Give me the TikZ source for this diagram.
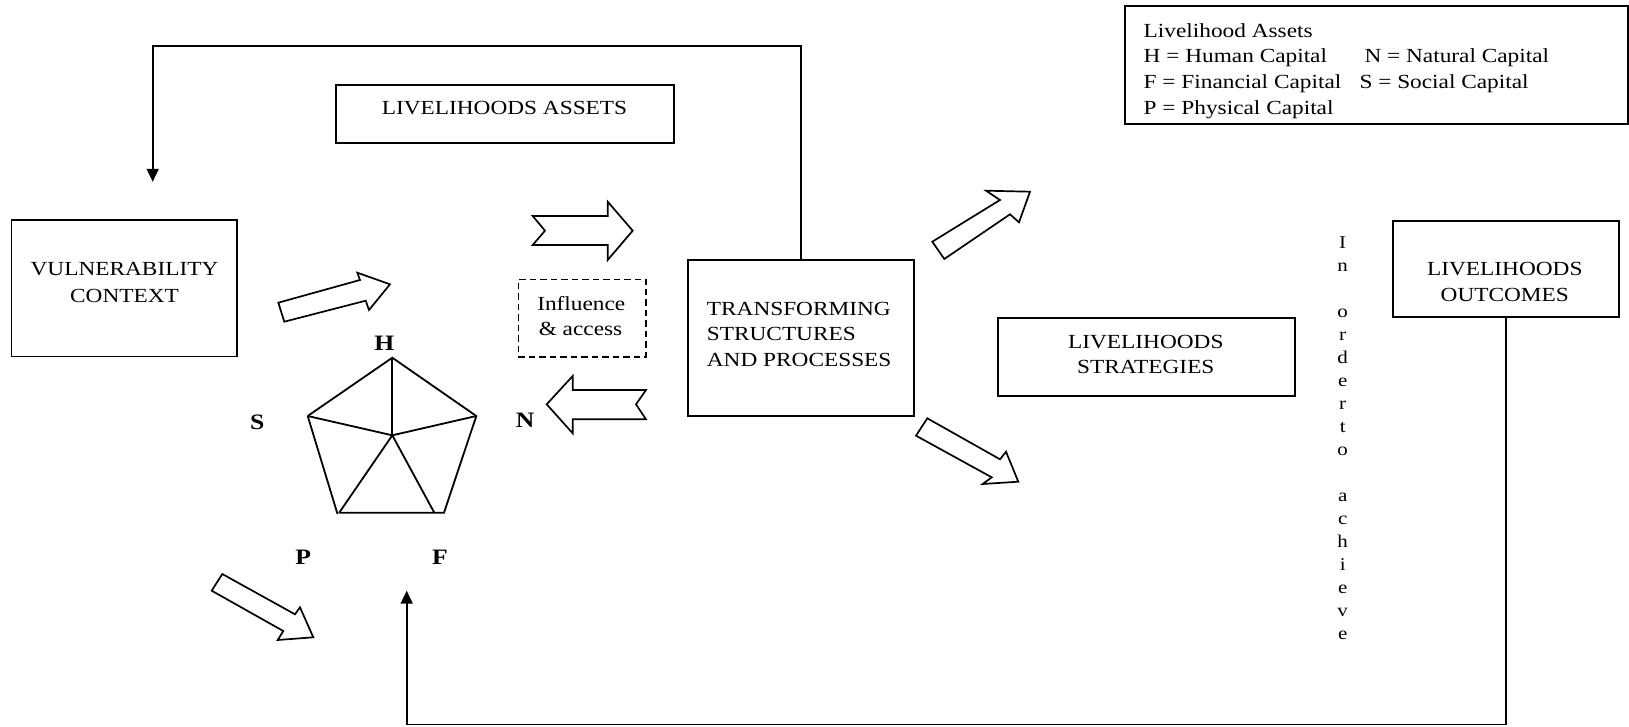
\documentclass[tikz,border=0pt]{standalone}
\usepackage{fontspec}
\setmainfont{Liberation Serif}[FakeStretch=1.165]
\usetikzlibrary{arrows.meta}
\begin{document}
\begin{tikzpicture}[x=1pt,y=-1pt,
  box/.style={draw, line width=1.8pt, rectangle, inner sep=0pt},
  dbox/.style={draw, line width=1.6pt, rectangle, inner sep=0pt, dash pattern=on 6.5pt off 4pt},
  txt/.style={inner sep=0pt, font=\fontsize{20}{22}\selectfont},
  vtxt/.style={inner sep=0pt, font=\fontsize{18}{20}\selectfont},
  lbl/.style={inner sep=0pt, font=\fontsize{22}{24}\selectfont\bfseries},
  conn/.style={line width=1.8pt, line cap=butt},
  tip/.style={-{Triangle[length=13pt,width=12pt]}},
  blockarrow/.style={draw, line width=1.7pt, fill=white, line join=miter},
  pent/.style={line width=1.8pt, line join=miter}]
\useasboundingbox (0,0) rectangle (1629,727);

% ---- boxes ----
\node[box, minimum width=225.5, minimum height=136] (vul) at (124.2,288.4) {};
\node[txt, anchor=base] (vulA) at (124.5,276) {VULNERABILITY};
\node[txt, anchor=base] (vulB) at (124.5,302) {CONTEXT};

\node[box, minimum width=338.7, minimum height=58.2] (assets) at (505,114.3) {};
\node[txt, anchor=base] (assetsT) at (504.5,115) {LIVELIHOODS ASSETS};

\node[box, minimum width=503, minimum height=117.6] (legend) at (1376.5,65) {};
\node[txt, anchor=base west] (lg1) at (1143.5,37.3) {Livelihood Assets};
\node[txt, anchor=base west] (lg2) at (1143.5,62.9) {H = Human Capital};
\node[txt, anchor=base west] (lg3) at (1364.3,62.9) {N = Natural Capital};
\node[txt, anchor=base west] (lg4) at (1143.5,88.5) {F = Financial Capital};
\node[txt, anchor=base west] (lg5) at (1359.3,88.5) {S = Social Capital};
\node[txt, anchor=base west] (lg6) at (1143.5,114.1) {P = Physical Capital};

\node[box, minimum width=226, minimum height=155.6] (trans) at (801,337.8) {};
\node[txt, anchor=base west] (transA) at (706.7,315) {TRANSFORMING};
\node[txt, anchor=base west] (transB) at (706.7,340.8) {STRUCTURES};
\node[txt, anchor=base west] (transC) at (706.7,366.6) {AND PROCESSES};

\node[dbox, minimum width=127.7, minimum height=77.4] (infl) at (582.2,318) {};
\node[txt, anchor=base] (inflA) at (581.3,310) {Influence};
\node[txt, anchor=base] (inflB) at (580.5,335) {\& access};

\node[box, minimum width=297.3, minimum height=77.7] (strat) at (1146.3,357.2) {};
\node[txt, anchor=base] (stratA) at (1145.8,348.3) {LIVELIHOODS};
\node[txt, anchor=base] (stratB) at (1145.8,373.5) {STRATEGIES};

\node[box, minimum width=226, minimum height=96.6] (outc) at (1505.7,269) {};
\node[txt, anchor=base] (outcA) at (1504.8,275) {LIVELIHOODS};
\node[txt, anchor=base] (outcB) at (1504.8,301) {OUTCOMES};

% ---- vertical text ----
\foreach \ch [count=\k from 0] in {I,n,{},o,r,d,e,r,t,o,{},a,c,h,i,e,v,e}{
  \node[vtxt, anchor=base] (v\k) at (1342.7,248.3+23*\k) {\ch};
}

% ---- pentagon ----
\coordinate (pH) at (392.3,357.7);
\coordinate (pS) at (307.7,416);
\coordinate (pN) at (476.3,416);
\coordinate (pBL) at (340,512.7);
\coordinate (pBR) at (444,512.7);
\coordinate (pC) at (392.3,435.3);
\coordinate (pR) at (434.3,512.7);
\coordinate (pL) at (337.5,514);
\draw[pent] (pS) -- (pH) -- (pN) -- (pBR) -- (pBL);
\draw[pent] (pS) -- (pL);
\draw[pent] (pC) -- (pH);
\draw[pent] (pC) -- (pS);
\draw[pent] (pC) -- (pN);
\draw[pent] (pC) -- (339,513);
\draw[pent] (pC) -- (pR);
\node[lbl] (lH) at (384.3,343.3) {H};
\node[lbl] (lS) at (257.3,422.7) {S};
\node[lbl] (lN) at (525,420.7) {N};
\node[lbl] (lP) at (303.3,557.3) {P};
\node[lbl] (lF) at (440,557.3) {F};

% ---- block arrows ----
\draw[blockarrow] (284.3,321.7) -- (278.3,302.7) -- (360,280) -- (357.3,272.7) -- (390,284.3) -- (369,310) -- (365.7,300.7) -- cycle;
\draw[blockarrow] (532.7,216) -- (545,230.7) -- (532.7,245) -- (607.7,245) -- (607.7,260) -- (632.7,230.7) -- (607.7,201.7) -- (607.7,216) -- cycle;
\draw[blockarrow] (546.7,404.3) -- (572.7,376) -- (572.7,390) -- (646,390) -- (636,404.3) -- (646,419.3) -- (572.7,419.3) -- (572.7,433.3) -- cycle;
\draw[blockarrow] (944.3,259) -- (932.3,241.7) -- (1000,200) -- (986,190.7) -- (1030,191.7) -- (1019,222.3) -- (1010,214.3) -- cycle;
\draw[blockarrow] (927.3,418.3) -- (916,435.7) -- (991.7,477.3) -- (982.7,484) -- (1018.3,481.7) -- (1006,451.7) -- (1000,459.3) -- cycle;
\draw[blockarrow] (222.3,574) -- (211.7,590.7) -- (283.3,631) -- (277.7,640) -- (313.3,637.3) -- (300,607.3) -- (295,614.3) -- cycle;

% ---- feedback connectors ----
\coordinate (c1) at (152.7,45.7);
\coordinate (vtop) at (152.7,181.8);
\draw[conn, tip] (trans.north) |- (c1) -- (vtop);
\coordinate (c2) at (1505.7,724.5);
\coordinate (c3) at (406.7,724.5);
\coordinate (pbot) at (406.7,590.7);
\draw[conn, tip] (outc.south) -- (c2) -- (c3) -- (pbot);
\end{tikzpicture}
\end{document}
